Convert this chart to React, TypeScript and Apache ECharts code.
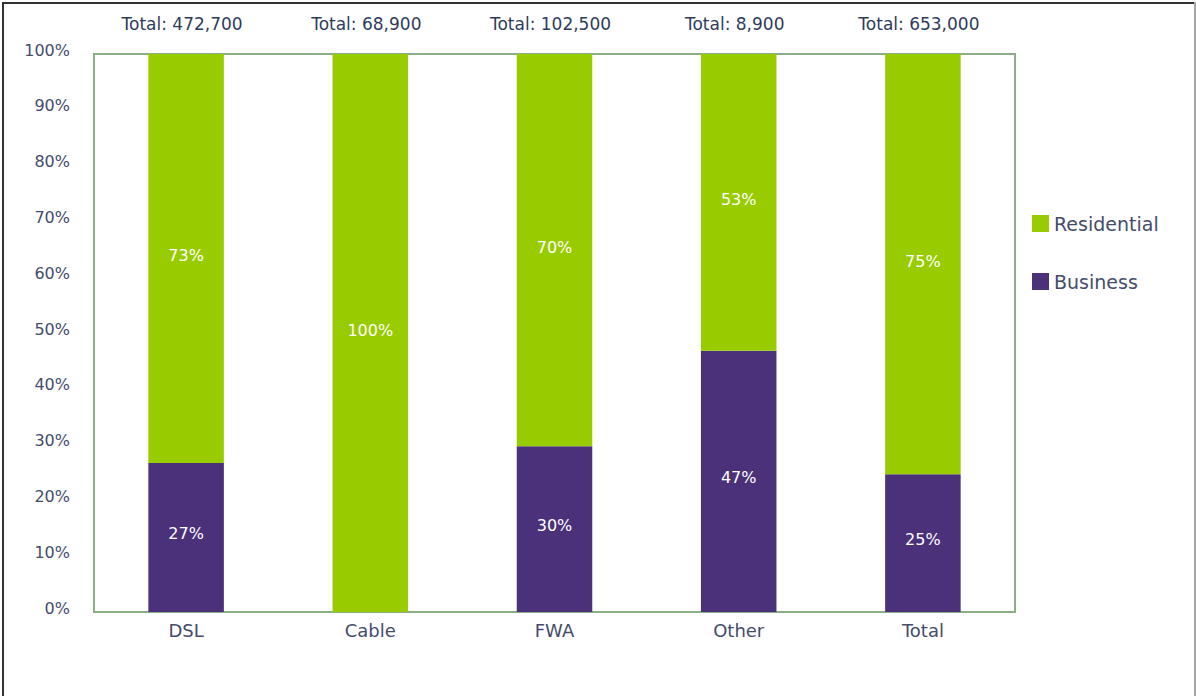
import React, { useEffect, useRef } from "react";
import * as echarts from "echarts";

const categories = ["DSL", "Cable", "FWA", "Other", "Total"];
const totalLabels = ["Total: 472,700", "Total: 68,900", "Total: 102,500", "Total: 8,900", "Total: 653,000"];
const business = [26.7, 0, 29.7, 46.8, 24.7];
const residential = [73.3, 100, 70.3, 53.2, 75.3];
const yTicks = [0, 10, 20, 30, 40, 50, 60, 70, 80, 90, 100];

const FONT = "DejaVu Sans";
const GREEN = "#99cc00";
const PURPLE = "#4b317a";
const AXIS_TEXT = "#454c6c";

export default function App() {
  const ref = useRef<HTMLDivElement>(null);
  useEffect(() => {
    if (!ref.current) return;
    const chart = echarts.init(ref.current, null, { renderer: "svg" });
    const labelFmt = (p: any) => (p.value > 0 ? Math.round(p.value) + "%" : "");
    chart.setOption({
      animation: false,
      textStyle: { fontFamily: FONT },
      grid: {
        left: 94,
        right: 181,
        top: 54,
        bottom: 84,
        show: true,
        borderColor: "#8cae86",
        borderWidth: 2,
        containLabel: false,
      },
      legend: {
        orient: "vertical",
        left: 1032,
        top: 214,
        padding: 0,
        itemWidth: 17,
        itemHeight: 17,
        itemGap: 39,
        icon: "rect",
        data: ["Residential", "Business"],
        textStyle: { fontFamily: FONT, fontSize: 19, color: AXIS_TEXT },
      },
      xAxis: [
        {
          type: "category",
          data: categories,
          position: "bottom",
          axisLine: { show: false },
          axisTick: { show: false },
          axisLabel: { fontFamily: FONT, fontSize: 18, color: AXIS_TEXT, margin: 9 },
        },
        {
          type: "category",
          data: totalLabels,
          position: "top",
          axisLine: { show: false },
          axisTick: { show: false },
          axisLabel: { fontFamily: FONT, fontSize: 17, color: "#2f3b5e", margin: 22, padding: [0, 8, 0, 0] },
        },
      ],
      yAxis: {
        type: "value",
        min: 0,
        max: 100,
        interval: 10,
        axisLine: { show: false },
        axisTick: { show: false },
        splitLine: { show: false },
        axisLabel: {
          fontFamily: FONT,
          fontSize: 16,
          color: AXIS_TEXT,
          margin: 24,
          verticalAlign: "bottom",
          lineHeight: 8,
          formatter: (v: number) => (yTicks.includes(v) ? v + "%" : ""),
        },
      },
      series: [
        {
          name: "Business",
          type: "bar",
          stack: "s",
          data: business,
          barWidth: "41%",
          itemStyle: { color: PURPLE },
          label: { show: true, position: "inside", offset: [0, -4], color: "#ffffff", fontFamily: FONT, fontSize: 16, formatter: labelFmt },
        },
        {
          name: "Residential",
          type: "bar",
          stack: "s",
          data: residential,
          barWidth: "41%",
          itemStyle: { color: GREEN },
          label: { show: true, position: "inside", offset: [0, -3], color: "#ffffff", fontFamily: FONT, fontSize: 16, formatter: labelFmt },
        },
      ],
      graphic: [
        { type: "line", shape: { x1: 3, y1: 2, x2: 3, y2: 696 }, style: { stroke: "#333333", lineWidth: 2 } },
        { type: "line", shape: { x1: 2, y1: 3, x2: 1196, y2: 3 }, style: { stroke: "#333333", lineWidth: 2 } },
        { type: "line", shape: { x1: 1195, y1: 2, x2: 1195, y2: 696 }, style: { stroke: "#a6a6a6", lineWidth: 2 } },
      ],
    });
    return () => chart.dispose();
  }, []);
  return (
    <div
      ref={ref}
      style={{ position: "absolute", left: 0, top: 0, width: 1196, height: 696, background: "#ffffff" }}
    />
  );
}
